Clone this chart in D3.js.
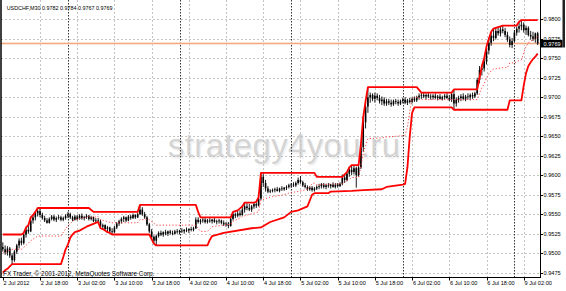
<!DOCTYPE html>
<html><head><meta charset="utf-8">
<script src="https://cdn.jsdelivr.net/npm/d3@7"></script>
<style>
html,body{margin:0;padding:0;background:#fff;}
svg{display:block;}
text{font-family:"Liberation Sans",Arial,sans-serif;}
</style>
</head><body>
<svg id="c" width="566" height="291"></svg>
<script>
// ---------- DATA ----------
const symbolTitle = "USDCHF,M30";
const opens = [
0.9508,0.9505,0.9501,0.9506,0.9497,0.9491,0.9502,0.9510,0.9516,0.9513,0.9524,0.9530,0.9528,0.9542,0.9546,0.9551,0.9554,0.9549,0.9545,0.9542,
0.9539,0.9544,0.9547,0.9543,0.9545,0.9546,0.9543,0.9545,0.9548,0.9550,0.9546,0.9543,0.9547,0.9544,0.9548,0.9545,0.9546,0.9548,0.9544,0.9546,
0.9541,0.9542,0.9541,0.9534,0.9536,0.9531,0.9533,0.9528,0.9527,0.9533,0.9538,0.9541,0.9544,0.9546,0.9542,0.9547,0.9545,0.9549,0.9546,0.9550,
0.9556,0.9550,0.9546,0.9537,0.9528,0.9521,0.9516,0.9522,0.9526,0.9524,0.9527,0.9525,0.9528,0.9526,0.9525,0.9528,0.9527,0.9529,0.9528,0.9530,
0.9529,0.9531,0.9530,0.9532,0.9543,0.9540,0.9542,0.9543,0.9540,0.9542,0.9541,0.9543,0.9540,0.9541,0.9542,0.9539,0.9537,0.9538,0.9535,0.9544,
0.9550,0.9548,0.9551,0.9549,0.9556,0.9560,0.9558,0.9556,0.9560,0.9563,0.9561,0.9570,0.9598,0.9590,0.9583,0.9579,0.9580,0.9581,0.9582,0.9580,
0.9583,0.9582,0.9584,0.9585,0.9587,0.9588,0.9587,0.9590,0.9594,0.9591,0.9587,0.9585,0.9582,0.9584,0.9581,0.9583,0.9585,0.9586,0.9588,0.9585,
0.9587,0.9586,0.9588,0.9585,0.9588,0.9586,0.9589,0.9597,0.9594,0.9602,0.9607,0.9604,0.9609,0.9600,0.9610,0.9636,0.9668,0.9688,0.9700,0.9703,
0.9698,0.9702,0.9699,0.9695,0.9697,0.9692,0.9695,0.9693,0.9691,0.9695,0.9694,0.9692,0.9695,0.9697,0.9693,0.9696,0.9694,0.9698,0.9696,0.9700,
0.9702,0.9703,0.9701,0.9703,0.9701,0.9700,0.9702,0.9699,0.9701,0.9698,0.9700,0.9702,0.9699,0.9697,0.9704,0.9692,0.9697,0.9699,0.9701,0.9698,
0.9701,0.9700,0.9703,0.9701,0.9705,0.9722,0.9735,0.9737,0.9746,0.9760,0.9770,0.9779,0.9776,0.9785,0.9782,0.9787,0.9785,0.9780,0.9774,0.9767,
0.9772,0.9783,0.9788,0.9791,0.9793,0.9786,0.9789,0.9780,0.9778,0.9775,0.9782];
const highs = [
0.9514,0.9510,0.9509,0.9508,0.9500,0.9504,0.9512,0.9519,0.9520,0.9526,0.9533,0.9536,0.9546,0.9549,0.9553,0.9558,0.9557,0.9552,0.9548,0.9545,
0.9546,0.9549,0.9549,0.9547,0.9549,0.9548,0.9547,0.9550,0.9553,0.9552,0.9548,0.9549,0.9549,0.9550,0.9551,0.9548,0.9550,0.9549,0.9548,0.9547,
0.9545,0.9545,0.9543,0.9538,0.9537,0.9535,0.9534,0.9532,0.9535,0.9540,0.9543,0.9546,0.9548,0.9547,0.9549,0.9549,0.9551,0.9550,0.9552,0.9562,
0.9559,0.9553,0.9548,0.9539,0.9531,0.9523,0.9524,0.9528,0.9529,0.9528,0.9530,0.9529,0.9530,0.9529,0.9530,0.9531,0.9530,0.9532,0.9531,0.9533,
0.9532,0.9534,0.9534,0.9546,0.9546,0.9544,0.9545,0.9545,0.9544,0.9545,0.9544,0.9545,0.9543,0.9544,0.9543,0.9542,0.9540,0.9540,0.9546,0.9553,
0.9552,0.9555,0.9555,0.9560,0.9565,0.9564,0.9563,0.9562,0.9565,0.9566,0.9572,0.9603,0.9602,0.9594,0.9586,0.9582,0.9583,0.9584,0.9585,0.9584,
0.9586,0.9585,0.9587,0.9589,0.9590,0.9591,0.9592,0.9597,0.9599,0.9593,0.9590,0.9587,0.9586,0.9586,0.9585,0.9587,0.9589,0.9590,0.9590,0.9589,
0.9590,0.9589,0.9591,0.9590,0.9590,0.9591,0.9601,0.9601,0.9604,0.9610,0.9613,0.9612,0.9611,0.9612,0.9640,0.9675,0.9695,0.9713,0.9706,0.9705,
0.9706,0.9705,0.9703,0.9701,0.9700,0.9698,0.9698,0.9697,0.9697,0.9698,0.9697,0.9697,0.9699,0.9700,0.9698,0.9699,0.9700,0.9701,0.9702,0.9705,
0.9706,0.9706,0.9705,0.9706,0.9704,0.9704,0.9705,0.9703,0.9704,0.9702,0.9704,0.9706,0.9703,0.9706,0.9710,0.9700,0.9702,0.9704,0.9705,0.9703,
0.9705,0.9705,0.9706,0.9707,0.9725,0.9740,0.9740,0.9750,0.9765,0.9775,0.9784,0.9788,0.9789,0.9790,0.9791,0.9792,0.9789,0.9784,0.9778,0.9776,
0.9786,0.9791,0.9797,0.9799,0.9796,0.9792,0.9791,0.9785,0.9784,0.9783,0.9784];
const lows = [
0.9502,0.9498,0.9497,0.9494,0.9486,0.9489,0.9499,0.9506,0.9510,0.9511,0.9520,0.9525,0.9527,0.9538,0.9542,0.9547,0.9546,0.9543,0.9540,0.9538,
0.9538,0.9542,0.9541,0.9540,0.9543,0.9541,0.9541,0.9543,0.9545,0.9544,0.9541,0.9542,0.9542,0.9543,0.9543,0.9542,0.9544,0.9542,0.9542,0.9540,
0.9539,0.9540,0.9532,0.9531,0.9529,0.9527,0.9526,0.9524,0.9526,0.9531,0.9535,0.9538,0.9540,0.9540,0.9541,0.9543,0.9544,0.9544,0.9545,0.9549,
0.9548,0.9544,0.9535,0.9526,0.9518,0.9512,0.9510,0.9520,0.9522,0.9521,0.9523,0.9522,0.9524,0.9523,0.9524,0.9525,0.9524,0.9526,0.9525,0.9527,
0.9526,0.9528,0.9528,0.9531,0.9538,0.9537,0.9539,0.9538,0.9538,0.9539,0.9538,0.9539,0.9537,0.9538,0.9537,0.9535,0.9534,0.9532,0.9534,0.9542,
0.9545,0.9546,0.9547,0.9548,0.9552,0.9555,0.9554,0.9553,0.9557,0.9558,0.9560,0.9568,0.9585,0.9579,0.9577,0.9577,0.9578,0.9578,0.9579,0.9578,
0.9580,0.9580,0.9581,0.9583,0.9584,0.9585,0.9585,0.9588,0.9589,0.9585,0.9583,0.9580,0.9580,0.9579,0.9579,0.9581,0.9582,0.9583,0.9583,0.9582,
0.9584,0.9583,0.9584,0.9583,0.9584,0.9585,0.9587,0.9590,0.9592,0.9598,0.9600,0.9601,0.9584,0.9598,0.9608,0.9630,0.9660,0.9680,0.9693,0.9695,
0.9693,0.9696,0.9692,0.9690,0.9689,0.9689,0.9690,0.9688,0.9689,0.9691,0.9689,0.9690,0.9692,0.9691,0.9690,0.9692,0.9692,0.9694,0.9694,0.9697,
0.9698,0.9699,0.9697,0.9699,0.9697,0.9697,0.9698,0.9696,0.9697,0.9696,0.9697,0.9698,0.9695,0.9694,0.9684,0.9688,0.9693,0.9695,0.9696,0.9695,
0.9697,0.9696,0.9698,0.9699,0.9703,0.9718,0.9728,0.9733,0.9742,0.9755,0.9766,0.9772,0.9774,0.9779,0.9778,0.9782,0.9777,0.9771,0.9764,0.9763,
0.9770,0.9779,0.9783,0.9786,0.9783,0.9780,0.9778,0.9774,0.9772,0.9770,0.9767];
const closes = [
0.9505,0.9501,0.9506,0.9497,0.9491,0.9502,0.9510,0.9516,0.9513,0.9524,0.9530,0.9528,0.9542,0.9546,0.9551,0.9554,0.9549,0.9545,0.9542,0.9539,
0.9544,0.9547,0.9543,0.9545,0.9546,0.9543,0.9545,0.9548,0.9550,0.9546,0.9543,0.9547,0.9544,0.9548,0.9545,0.9546,0.9548,0.9544,0.9546,0.9541,
0.9542,0.9541,0.9534,0.9536,0.9531,0.9533,0.9528,0.9527,0.9533,0.9538,0.9541,0.9544,0.9546,0.9542,0.9547,0.9545,0.9549,0.9546,0.9550,0.9556,
0.9550,0.9546,0.9537,0.9528,0.9521,0.9516,0.9522,0.9526,0.9524,0.9527,0.9525,0.9528,0.9526,0.9525,0.9528,0.9527,0.9529,0.9528,0.9530,0.9529,
0.9531,0.9530,0.9532,0.9543,0.9540,0.9542,0.9543,0.9540,0.9542,0.9541,0.9543,0.9540,0.9541,0.9542,0.9539,0.9537,0.9538,0.9535,0.9544,0.9550,
0.9548,0.9551,0.9549,0.9556,0.9560,0.9558,0.9556,0.9560,0.9563,0.9561,0.9570,0.9598,0.9590,0.9583,0.9579,0.9580,0.9581,0.9582,0.9580,0.9583,
0.9582,0.9584,0.9585,0.9587,0.9588,0.9587,0.9590,0.9594,0.9591,0.9587,0.9585,0.9582,0.9584,0.9581,0.9583,0.9585,0.9586,0.9588,0.9585,0.9587,
0.9586,0.9588,0.9585,0.9588,0.9586,0.9589,0.9597,0.9594,0.9602,0.9607,0.9604,0.9609,0.9600,0.9610,0.9636,0.9668,0.9688,0.9700,0.9703,0.9698,
0.9702,0.9699,0.9695,0.9697,0.9692,0.9695,0.9693,0.9691,0.9695,0.9694,0.9692,0.9695,0.9697,0.9693,0.9696,0.9694,0.9698,0.9696,0.9700,0.9702,
0.9703,0.9701,0.9703,0.9701,0.9700,0.9702,0.9699,0.9701,0.9698,0.9700,0.9702,0.9699,0.9697,0.9704,0.9692,0.9697,0.9699,0.9701,0.9698,0.9701,
0.9700,0.9703,0.9701,0.9705,0.9722,0.9735,0.9737,0.9746,0.9760,0.9770,0.9779,0.9776,0.9785,0.9782,0.9787,0.9785,0.9780,0.9774,0.9767,0.9772,
0.9783,0.9788,0.9791,0.9793,0.9786,0.9789,0.9780,0.9778,0.9775,0.9782,0.9769];

// channel lines: [bar index, price]
const upperChannel = [[0,0.9524],[8,0.9524],[9,0.9526],[10,0.9533],[11,0.9536],[12,0.9546],[13,0.9549],[14,0.9553],[15,0.9558],
[37,0.9558],[39,0.9553],[58,0.9553],[59,0.9562],[83,0.9562],[84,0.9553],[85,0.9546],[98,0.9546],[99,0.9553],[101,0.9555],[103,0.9560],
[104,0.9565],[108,0.9565],[109,0.9566],[110,0.9572],[111,0.9603],[134,0.9603],[135,0.9598],[146,0.9598],[147,0.9601],[148,0.9604],
[149,0.9610],[150,0.9613],[153,0.9613],[154,0.9640],[155,0.9675],[156,0.9695],[157,0.9713],[178,0.9713],[180,0.9706],[193,0.9706],
[194,0.9710],[204,0.9710],[205,0.9725],[206,0.9740],[207,0.9750],[208,0.9765],[209,0.9775],[210,0.9784],[211,0.9788],[212,0.9789],
[213,0.9790],[214,0.9791],[215,0.9792],[221,0.9792],[222,0.9797],[223,0.9799],[230,0.9799]];
const lowerChannel = [[0,0.9475],[1,0.9478],[2,0.9480],[3,0.9483],[4,0.9486],[25,0.9486],[26,0.9495],[27,0.9505],[28,0.9511],[29,0.9520],
[30,0.9524],[31,0.9527],[33,0.9529],[36,0.9534],[40,0.9539],[41,0.9540],[42,0.9532],[43,0.9531],[44,0.9529],[45,0.9527],[46,0.9526],
[47,0.9524],[63,0.9524],[64,0.9518],[65,0.9512],[66,0.9510],[88,0.9510],[89,0.9517],[90,0.9522],[95,0.9526],[107,0.9532],[111,0.9533],
[115,0.9540],[121,0.9546],[124,0.9553],[127,0.9555],[131,0.9560],[133,0.9575],[134,0.9577],[140,0.9577],[141,0.9579],[150,0.9580],
[155,0.9581],[163,0.9582],[165,0.9585],[172,0.9588],[173,0.9589],[174,0.9610],[175,0.9650],[176,0.9680],[177,0.9687],[193,0.9687],
[194,0.9684],[217,0.9684],[218,0.9696],[223,0.9696],[224,0.9715],[225,0.9731],[226,0.9740],[227,0.9745],[228,0.9749],[229,0.9752],[230,0.9756]];
const middleLine = [[0,0.9500],[4,0.9505],[8,0.9505],[10,0.9510],[12,0.9516],[15,0.9522],[25,0.9522],[26,0.9527],[28,0.9535],[30,0.9541],
[31,0.9543],[36,0.9546],[37,0.9547],[39,0.9546],[41,0.9547],[42,0.9543],[47,0.9539],[58,0.9539],[59,0.9543],[63,0.9543],[66,0.9536],
[83,0.9536],[85,0.9528],[88,0.9528],[90,0.9534],[95,0.9536],[98,0.9537],[99,0.9541],[104,0.9548],[110,0.9553],[111,0.9568],[115,0.9572],
[121,0.9575],[124,0.9578],[127,0.9579],[131,0.9582],[133,0.9589],[134,0.9590],[135,0.9588],[146,0.9589],[150,0.9597],[153,0.9597],
[154,0.9611],[155,0.9628],[156,0.9638],[157,0.9647],[163,0.9648],[165,0.9649],[173,0.9651],[174,0.9662],[175,0.9682],[176,0.9697],
[177,0.9700],[178,0.9700],[180,0.9697],[193,0.9697],[204,0.9697],[205,0.9705],[206,0.9712],[207,0.9717],[208,0.9725],[209,0.9730],
[210,0.9734],[211,0.9736],[215,0.9738],[217,0.9738],[218,0.9744],[220,0.9744],[222,0.9747],[223,0.9748],[224,0.9757],[225,0.9765],
[226,0.9770],[227,0.9772],[228,0.9774],[229,0.9776],[230,0.9778]];

const priceTicks = [0.9475,0.9500,0.9525,0.9550,0.9575,0.9600,0.9625,0.9650,0.9675,0.9700,0.9725,0.9750,0.9775,0.9800];
const timeTickBars = [0,16,32,48,64,80,96,112,128,144,160,176,192,208,224];
const timeTickLabels = ["2 Jul 2012","2 Jul 18:00","3 Jul 02:00","3 Jul 10:00","3 Jul 18:00","4 Jul 02:00","4 Jul 10:00","4 Jul 18:00",
"5 Jul 02:00","5 Jul 10:00","5 Jul 18:00","6 Jul 02:00","6 Jul 10:00","6 Jul 18:00","9 Jul 02:00"];
const daySeparatorBars = [28,76,124,172,220];
const watermarkText = "strategy4you.ru";
const copyrightText = "FX Trader, \u00A9 2001-2012, MetaQuotes Software Corp.";

// ---------- DRAWING ----------
const svg = d3.select("#c");
const n = closes.length;
const plotL = 1, plotR = 540, plotT = 0, plotB = 277.5;
const x = d3.scaleLinear().domain([0, n - 1]).range([2.8, 2.8 + (n - 1) * 2.3255]);
const y = d3.scaleLinear().domain([0.9475, 0.9800]).range([272.7, 19.3]);
const fmt = d3.format(".4f");

svg.append("rect").attr("width", 566).attr("height", 291).attr("fill", "#fff");

// watermark
const wm = svg.append("g");
wm.append("text").attr("x", 169.5).attr("y", 158.5).attr("font-family", "DejaVu Sans")
  .attr("font-size", 33).attr("fill", "#f3f3f3").attr("textLength", 232).text(watermarkText);
wm.append("text").attr("x", 168).attr("y", 157).attr("font-family", "DejaVu Sans")
  .attr("font-size", 33).attr("fill", "#d4d4d4").attr("textLength", 232).text(watermarkText);

// horizontal grid
svg.append("g").selectAll("line").data(priceTicks).join("line")
  .attr("x1", plotL).attr("x2", plotR)
  .attr("y1", d => Math.round(y(d)) + 0.5).attr("y2", d => Math.round(y(d)) + 0.5)
  .attr("stroke", "#c4c4c4").attr("stroke-dasharray", "2,2");

// vertical grid at time ticks
svg.append("g").selectAll("line").data(timeTickBars.slice(1)).join("line")
  .attr("x1", d => Math.round(x(d)) + 0.5).attr("x2", d => Math.round(x(d)) + 0.5)
  .attr("y1", plotT).attr("y2", plotB)
  .attr("stroke", "#c4c4c4").attr("stroke-dasharray", "2,2");

// day separators
svg.append("g").selectAll("line").data(daySeparatorBars).join("line")
  .attr("x1", d => Math.round(x(d)) + 0.5).attr("x2", d => Math.round(x(d)) + 0.5)
  .attr("y1", plotT).attr("y2", plotB)
  .attr("stroke", "#333").attr("stroke-dasharray", "1.5,1.5");

// bid line
const lastClose = closes[n - 1];
svg.append("line").attr("x1", plotL).attr("x2", plotR)
  .attr("y1", y(lastClose)).attr("y2", y(lastClose))
  .attr("stroke", "#fbdccc").attr("stroke-width", 2.6);
svg.append("line").attr("x1", plotL).attr("x2", plotR)
  .attr("y1", y(lastClose)).attr("y2", y(lastClose))
  .attr("stroke", "#f0a078").attr("stroke-width", 0.9);

// candles
const idx = d3.range(n);
const cg = svg.append("g");
cg.selectAll("line").data(idx).join("line")
  .attr("x1", i => x(i)).attr("x2", i => x(i))
  .attr("y1", i => y(highs[i])).attr("y2", i => y(lows[i]))
  .attr("stroke", "#000").attr("stroke-width", 0.9);
cg.selectAll("rect").data(idx).join("rect")
  .attr("x", i => x(i) - 0.8).attr("width", 1.6)
  .attr("y", i => y(Math.max(opens[i], closes[i])))
  .attr("height", i => Math.max(0.8, Math.abs(y(opens[i]) - y(closes[i]))))
  .attr("fill", "#000");

// channel
const line = d3.line().x(d => x(d[0])).y(d => y(d[1]));
svg.append("path").attr("d", line(middleLine)).attr("fill", "none")
  .attr("stroke", "#ff4040").attr("stroke-width", 1).attr("stroke-dasharray", "1.2,2");
svg.append("path").attr("d", line(upperChannel)).attr("fill", "none")
  .attr("stroke", "#ff0000").attr("stroke-width", 1.8).attr("stroke-linejoin", "round");
svg.append("path").attr("d", line(lowerChannel)).attr("fill", "none")
  .attr("stroke", "#ff0000").attr("stroke-width", 1.8).attr("stroke-linejoin", "round");

// frame / axes
svg.append("rect").attr("x", plotR).attr("y", 0).attr("width", 26).attr("height", 291).attr("fill", "#fff");
svg.append("rect").attr("x", 0).attr("y", plotB).attr("width", 566).attr("height", 14).attr("fill", "#fff");
svg.append("line").attr("x1", 1).attr("x2", 1).attr("y1", 0).attr("y2", plotB).attr("stroke", "#000").attr("stroke-width", 1.5);
svg.append("line").attr("x1", plotR + 0.5).attr("x2", plotR + 0.5).attr("y1", 0).attr("y2", plotB + 0.5).attr("stroke", "#000");
svg.append("line").attr("x1", 0).attr("x2", plotR + 0.5).attr("y1", plotB).attr("y2", plotB).attr("stroke", "#000");

// y axis ticks and labels
const ya = svg.append("g");
ya.selectAll("line").data(priceTicks).join("line")
  .attr("x1", plotR).attr("x2", plotR + 3)
  .attr("y1", d => Math.round(y(d)) + 0.5).attr("y2", d => Math.round(y(d)) + 0.5).attr("stroke", "#000");
ya.selectAll("text").data(priceTicks).join("text")
  .attr("x", plotR + 3.5).attr("y", d => y(d) + 2)
  .attr("font-size", 5.6).attr("fill", "#000").text(d => fmt(d));

// current price label
svg.append("rect").attr("x", plotR + 0.5).attr("y", y(lastClose) - 3.6).attr("width", 22).attr("height", 7.6).attr("fill", "#000");
svg.append("text").attr("x", plotR + 3.5).attr("y", y(lastClose) + 2.1).attr("font-size", 5.6).attr("fill", "#fff").text(fmt(lastClose));
svg.append("rect").attr("x", 562.5).attr("y", 0).attr("width", 2.5).attr("height", y(lastClose) + 4).attr("fill", "#222");

// x axis ticks and labels
const xa = svg.append("g");
xa.selectAll("line").data(timeTickBars).join("line")
  .attr("x1", d => Math.round(x(d)) + 0.5).attr("x2", d => Math.round(x(d)) + 0.5)
  .attr("y1", plotB).attr("y2", plotB + 3).attr("stroke", "#000");
xa.selectAll("text").data(timeTickBars).join("text")
  .attr("x", d => x(d) + 0.8).attr("y", 284.6)
  .attr("font-size", 5.6).attr("fill", "#000").text((d, i) => timeTickLabels[i]);

// title
const last = n - 1;
svg.append("text").attr("x", 6.7).attr("y", 10).attr("font-size", 5.4).attr("fill", "#000")
  .text(symbolTitle + "  " + fmt(opens[last]) + " " + fmt(highs[last]) + " " + fmt(lows[last]) + " " + fmt(closes[last]));

// copyright
svg.append("text").attr("x", 3).attr("y", 275.5).attr("font-size", 6.4).attr("fill", "#000").text(copyrightText);
</script>
</body></html>
